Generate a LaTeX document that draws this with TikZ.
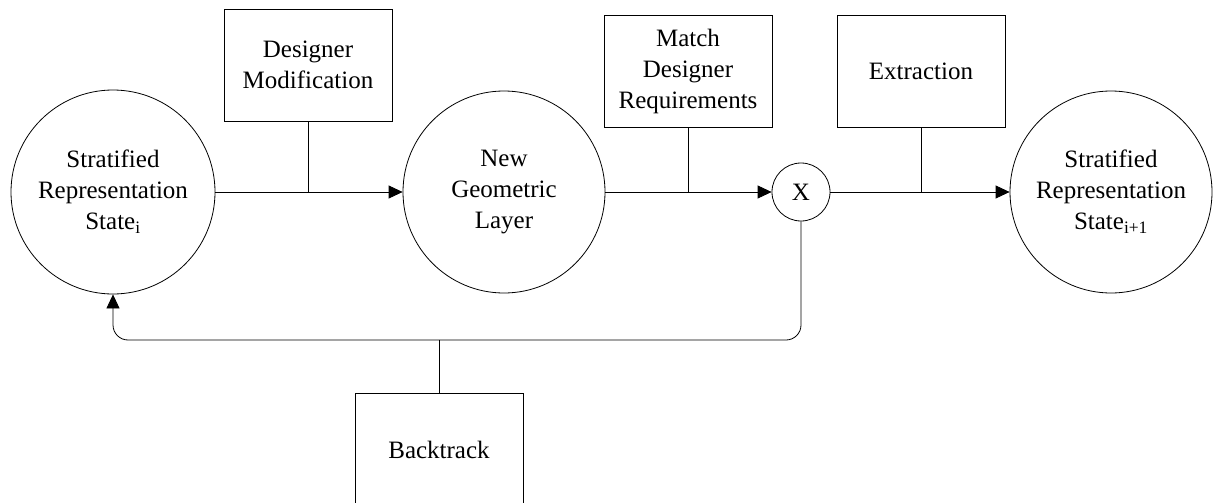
\documentclass[tikz,border=0pt]{standalone}
\usepackage{fontspec}
\setmainfont{Liberation Serif}
\usetikzlibrary{arrows.meta}
\begin{document}
\begin{tikzpicture}[x=1pt,y=-1pt,
  every path/.style={line width=0.8pt},
  state/.style={draw,circle,inner sep=0pt,align=center,font=\fontsize{25}{31}\selectfont},
  opbox/.style={draw,rectangle,minimum width=168pt,minimum height=112pt,inner sep=0pt,align=center,font=\fontsize{25}{31}\selectfont},
  flow/.style={-{Triangle[length=14pt,width=13pt]}}]
\useasboundingbox (0,0) rectangle (1213,503);
% states
\node[state,minimum size=204pt] (s1) at (113,192) {Stratified\\Representation\\State\textsubscript{i}};
\node[state,minimum size=202pt] (s2) at (504,192) {New\\Geometric\\Layer};
\node[state,minimum size=58pt] (x) at (801,192) {X};
\node[state,minimum size=202pt] (s3) at (1111,192) {Stratified\\Representation\\State\textsubscript{i+1}};
% operators
\node[opbox] (dm) at (308,65) {Designer\\Modification};
\node[opbox] (mdr) at (688,71) {Match\\Designer\\Requirements};
\node[opbox] (ext) at (921,71) {Extraction};
\node[opbox,minimum height=114pt] (bt) at (439,450) {Backtrack};
% main flow
\draw[flow] (s1.east) -- (s2.west);
\draw[flow] (s2.east) -- (x.west);
\draw[flow] (x.east) -- (s3.west);
\draw (dm.south) -- (dm.south |- s1.east);
\draw (mdr.south) -- (mdr.south |- s2.east);
\draw (ext.south) -- (ext.south |- x.east);
% feedback loop
\coordinate (fb) at (439,340);
\draw[flow,rounded corners=15pt] (x.south) |- (fb) -| (s1.south);
\draw (bt.north) -- (fb);
\end{tikzpicture}
\end{document}
